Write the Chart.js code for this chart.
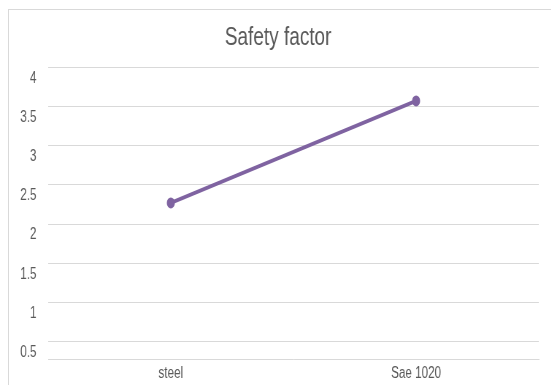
<!DOCTYPE html>
<html>
<head>
<meta charset="utf-8">
<script src="https://cdn.jsdelivr.net/npm/chart.js@4.4.0/dist/chart.umd.min.js"></script>
<style>
  html, body { margin: 0; padding: 0; background: #ffffff; overflow: hidden; width: 551px; height: 385px; }
  #frame {
    position: absolute; left: 8px; top: 9px; width: 700px; height: 500px;
    border-left: 1px solid #d9d9d9; border-top: 1px solid #d9d9d9;
  }
  /* chart is laid out wide and compressed horizontally for a condensed look */
  #wrap {
    position: absolute; left: 0; top: 0; width: 755px; height: 385px;
    transform: scaleX(0.73); transform-origin: 0 0;
  }
</style>
</head>
<body>
<div id="frame"></div>
<div id="wrap"><canvas id="c"></canvas></div>
<script>
const categories = ['steel', 'Sae 1020'];
const safetyFactor = [2.27, 3.57];
const yTickValues = [0.5, 1, 1.5, 2, 2.5, 3, 3.5, 4];

const textColor = '#595959';
const gridColor = '#d9d9d9';
const lineColor = '#7f63a1';
const fontFamily = "'Liberation Sans', Arial, Helvetica, sans-serif";

new Chart(document.getElementById('c'), {
  type: 'line',
  data: {
    labels: categories,
    datasets: [{
      label: 'Safety factor',
      data: safetyFactor,
      borderColor: lineColor,
      backgroundColor: lineColor,
      borderWidth: 4,
      pointRadius: 5.5,
      pointHoverRadius: 5.5,
      pointBorderWidth: 0,
      tension: 0
    }]
  },
  options: {
    responsive: true,
    maintainAspectRatio: false,
    animation: false,
    devicePixelRatio: 1,
    layout: { padding: { left: 24, right: 17, top: 0, bottom: 0 } },
    plugins: {
      legend: { display: false },
      tooltip: { enabled: false },
      title: {
        display: true,
        text: 'Safety factor',
        color: textColor,
        font: { family: fontFamily, size: 26, weight: 'normal' },
        padding: { top: 22, bottom: 14 }
      }
    },
    scales: {
      x: {
        offset: true,
        grid: { display: false, drawTicks: false },
        border: { display: true, color: gridColor, width: 1 },
        ticks: { color: textColor, font: { family: fontFamily, size: 16 }, padding: 5 },
        afterFit(scale) { scale.height = 26; }
      },
      y: {
        min: 0.28,
        max: 4,
        grid: { color: gridColor, lineWidth: 1, drawTicks: false },
        border: { display: false },
        ticks: {
          color: textColor,
          font: { family: fontFamily, size: 16 },
          padding: 16,
          labelOffset: 11,
          callback: (value) => String(value)
        },
        afterBuildTicks(scale) { scale.ticks = yTickValues.map(v => ({ value: v })); },
        afterFit(scale) { scale.width = 42; }
      }
    }
  }
});
</script>
</body>
</html>
